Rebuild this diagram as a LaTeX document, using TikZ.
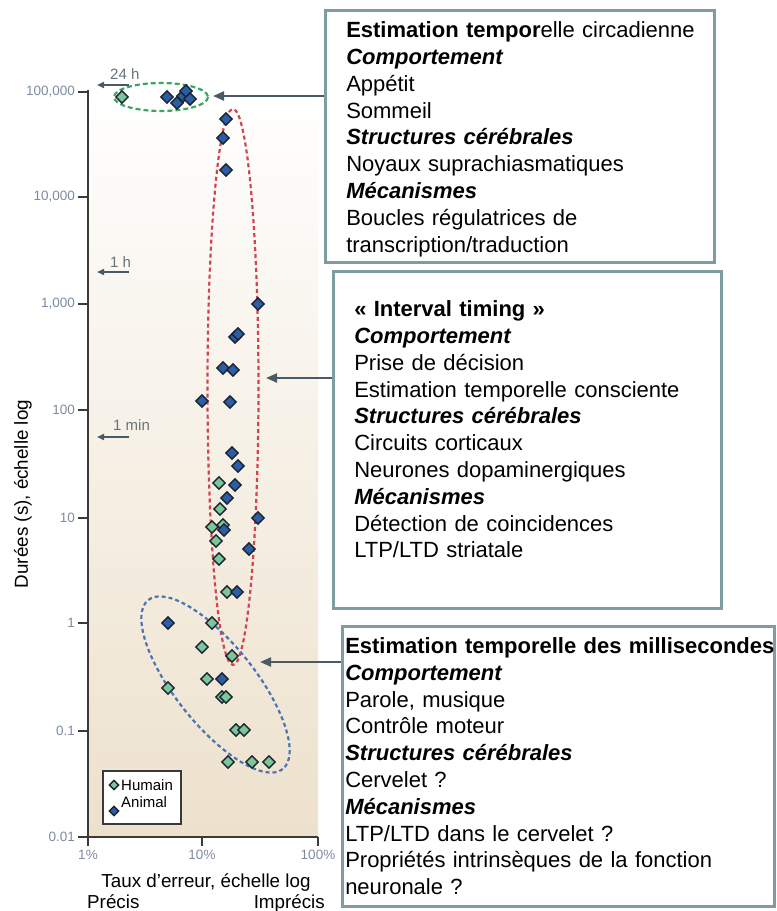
\documentclass[tikz,border=0pt]{standalone}
\usepackage{fontspec}
\setmainfont{Liberation Sans}
\usetikzlibrary{arrows.meta,shapes.geometric}
\definecolor{boxline}{HTML}{7F9CA0}
\definecolor{plotbg}{HTML}{EDE1CC}
\definecolor{humfill}{HTML}{7CC79A}
\definecolor{anifill}{HTML}{2D5DA6}
\definecolor{ptline}{HTML}{1A2430}
\definecolor{circgreen}{HTML}{3FA567}
\definecolor{intred}{HTML}{D5424E}
\definecolor{millblue}{HTML}{4D74B2}
\definecolor{ticklab}{HTML}{7E8BA0}
\definecolor{arrowgray}{HTML}{4A5A64}
\definecolor{axisgray}{HTML}{3A3A3A}
\tikzset{
	hum/.style={diamond, draw=ptline, line width=1.4pt, fill=humfill, minimum size=13pt, inner sep=0pt},
	ani/.style={hum, fill=anifill},
	infobox/.style={draw=boxline, line width=2.5pt, fill=white, anchor=north west, align=left, inner ysep=0pt, font=\fontsize{22}{26.8}\selectfont},
	pointer/.style={draw=arrowgray, line width=2.2pt, -{Triangle[length=11pt,width=9pt]}},
	timemark/.style={draw=arrowgray, line width=1.8pt, -{Triangle[length=7pt,width=6pt]}},
	timelabel/.style={text=arrowgray!85, font=\fontsize{15}{15}\selectfont, inner sep=0pt},
	ticklabel/.style={text=ticklab, font=\fontsize{13.5}{13.5}\selectfont, inner sep=0pt},
	axislabel/.style={font=\fontsize{18.8}{20}\selectfont, inner sep=0pt}
}
\begin{document}
\begin{tikzpicture}[x=1pt, y=-1pt]
	\useasboundingbox (0,0) rectangle (777,911);
	
	%%%%% plot area %%%%%
	\shade[top color=white, bottom color=plotbg] (88,86) rectangle (318,837);
	
	\draw[circgreen, line width=2.2pt, dash pattern=on 5pt off 3pt] (161,97) ellipse [x radius=47, y radius=14];
	\draw[intred, line width=2.2pt, dash pattern=on 4pt off 3pt] (233,387) ellipse [x radius=25.5, y radius=278];
	\draw[millblue, line width=2.2pt, dash pattern=on 4pt off 3pt, rotate around={-51.5:(215.5,684.5)}] (215.5,684.5) ellipse [x radius=108, y radius=40];
	
	% humain
	\foreach \x/\y [count=\i] in {122/97, 219/483, 220/509, 212/527, 223/525, 216/541, 219/559, 227/592, 212/623, 202/647, 232/656, 207/679, 168/688, 222/697, 226/697, 236/730, 244/730, 228/762, 252/762, 269/762}
		\node[hum] (hum\i) at (\x,\y) {};
	
	% animal
	\foreach \x/\y [count=\i] in {167/97, 177/103, 183/96, 186/91, 190/99, 226/119, 223/138, 226/170, 258/304, 235/337, 238/334, 223/368, 233/370, 202/401, 230/402, 232/453, 238/466, 235/485, 227/498, 258/518, 224/530, 249/549, 237/592, 168/623, 222/679}
		\node[ani] (ani\i) at (\x,\y) {};
	
	%%%%% axes %%%%%
	\draw[axisgray, line width=2pt] (88,90) -- (88,837) -- (318,837);
	\foreach \y/\lab in {92/{100,000}, 197/{10,000}, 304/{1,000}, 410/100, 518/10, 623/1, 731/0.1, 837/0.01} {
		\draw[axisgray, line width=2pt] (78,\y) -- (88,\y);
		\node[ticklabel, anchor=east] (ytick\y) at (75,\y) {\lab};
	}
	\foreach \x/\lab in {88/1\%, 202/10\%, 318/100\%} {
		\draw[axisgray, line width=2pt] (\x,837) -- (\x,846);
		\node[ticklabel] (xtick\x) at (\x,855) {\lab};
	}
	
	\node[axislabel, rotate=90] (ylab) at (23,494) {Durées (s), échelle log};
	\node[axislabel, anchor=base] (xlab) at (206,887) {Taux d'erreur, échelle log};
	\node[axislabel, anchor=base west] (precis) at (87,908) {Précis};
	\node[axislabel, anchor=base east] (imprecis) at (325,908) {Imprécis};
	
	% reperes de temps
	\foreach \y/\yl/\lx/\lab/\nm in {85/79/110/24 h/day, 272/267/110/1 h/hour, 437/430/113/1 min/minute} {
		\node[timelabel, anchor=base west] (\nm) at (\lx,\yl) {\lab};
		\coordinate (\nm-tail) at (129,\y);
		\coordinate (\nm-head) at (97,\y);
		\draw[timemark] (\nm-tail) -- (\nm-head);
	}
	
	% legende
	\node[draw=axisgray, line width=1.5pt, fill=white, minimum width=78pt, minimum height=53pt, anchor=north west] (legend) at (102,770) {};
	\node[hum, minimum size=10pt] (leghum) at (114,785) {};
	\node[ani, minimum size=10pt] (legani) at (114,811) {};
	\node[font=\fontsize{15}{15}\selectfont, inner sep=0pt, anchor=base west] (leghumtxt) at (121,790) {Humain};
	\node[font=\fontsize{15}{15}\selectfont, inner sep=0pt, anchor=base west] (leganitxt) at (121,807) {Animal};
	
	%%%%% boxes %%%%%
	\node[infobox, inner xsep=21pt, text width=347pt, minimum height=252pt] (circ) at (324,9) {%
		\mbox{\rule{0pt}{22pt}\textbf{Estimation tempor}elle circadienne}\\
		\textbf{\textit{Comportement}}\\
		Appétit\\
		Sommeil\\
		\textbf{\textit{Structures cérébrales}}\\
		Noyaux suprachiasmatiques\\
		\textbf{\textit{Mécanismes}}\\
		Boucles régulatrices de\\
		transcription/traduction};
	
	\node[infobox, inner xsep=21pt, text width=346pt, minimum height=337pt] (interv) at (332,270) {%
		\textbf{« Interval timing »}\\
		\textbf{\textit{Comportement}}\\
		Prise de décision\\
		Estimation temporelle consciente\\
		\textbf{\textit{Structures cérébrales}}\\
		Circuits corticaux\\
		Neurones dopaminergiques\\
		\textbf{\textit{Mécanismes}}\\
		Détection de coincidences\\
		LTP/LTD striatale\rule[-21pt]{0pt}{21pt}};
	
	\node[infobox, inner xsep=3pt, text width=426pt, minimum height=280pt] (milli) at (341,625) {%
		\mbox{\textbf{Estimation temporelle des millisecondes}}\\
		\textbf{\textit{Comportement}}\\
		Parole, musique\\
		Contrôle moteur\\
		\textbf{\textit{Structures cérébrales}}\\
		Cervelet ?\\
		\textbf{\textit{Mécanismes}}\\
		LTP/LTD dans le cervelet ?\\
		Propriétés intrinsèques de la fonction\\
		neuronale ?};
	
	\coordinate (circtip) at (213,96);
	\coordinate (intervtip) at (266,378);
	\coordinate (millitip) at (260,662);
	\draw[pointer] (circ.west |- circtip) -- (circtip);
	\draw[pointer] (interv.west |- intervtip) -- (intervtip);
	\draw[pointer] (milli.west |- millitip) -- (millitip);
\end{tikzpicture}
\end{document}
